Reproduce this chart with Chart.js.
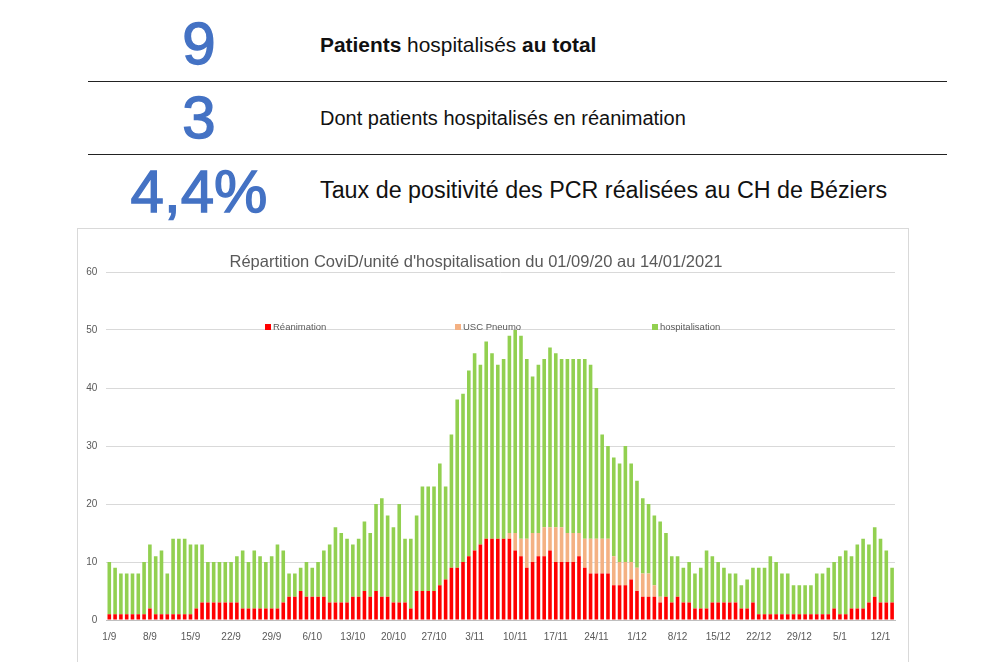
<!DOCTYPE html>
<html lang="fr">
<head>
<meta charset="utf-8">
<title>Répartition CoviD</title>
<script src="https://cdn.jsdelivr.net/npm/chart.js@4.4.0/dist/chart.umd.min.js"></script>
<style>
  html, body { margin: 0; padding: 0; background: #fff; }
  body { width: 983px; height: 662px; position: relative; overflow: hidden; font-family: "Liberation Sans", Arial, sans-serif; }
  .big { position: absolute; color: #4472C4; font-size: 60px; line-height: 60px; width: 200px; text-align: center; left: 99px; -webkit-text-stroke: 1.4px #4472C4; }
  .txt { position: absolute; left: 320px; color: #111; font-size: 20px; line-height: 22px; white-space: nowrap; }
  .rule { position: absolute; left: 88px; width: 859px; height: 1px; background: #222; }
  #frame { position: absolute; left: 77px; top: 228px; width: 830px; height: 440px; border: 1px solid #d9d9d9; }
  #wrap { position: absolute; left: 77px; top: 228px; width: 831px; height: 434px; }
</style>
</head>
<body>
<div class="big" style="top:14px;">9</div>
<div class="txt" style="top:34px; font-size:20.9px;"><b>Patients</b> hospitalisés <b>au total</b></div>
<div class="rule" style="top:81px;"></div>
<div class="big" style="top:88px;">3</div>
<div class="txt" style="top:107px;">Dont patients hospitalisés en réanimation</div>
<div class="rule" style="top:154px;"></div>
<div class="big" style="top:162px;">4,4%</div>
<div class="txt" style="top:177px; font-size:23.3px; line-height:26px;">Taux de positivité des PCR réalisées au CH de Béziers</div>
<div id="frame"></div>
<div id="wrap"><canvas id="c" width="831" height="434"></canvas></div>
<script>
// one bar per day, 1/9/2020 -> 14/1/2021
const months = [[9, 30], [10, 31], [11, 30], [12, 31], [1, 14]];
const categories = [];
months.forEach(([m, n]) => { for (let d = 1; d <= n; d++) categories.push(d + "/" + m); });

const tickLabels = ["1/9", "8/9", "15/9", "22/9", "29/9", "6/10", "13/10", "20/10", "27/10",
  "3/11", "10/11", "17/11", "24/11", "1/12", "8/12", "15/12", "22/12", "29/12", "5/1", "12/1"];

// Réanimation
const reanimation = [
  1,1,1,1,1,1,1,2,1,1,1,1,1,1,1,2,3,3,3,3,3,3,3,2,2,2,2,2,2,2,
  3,4,4,5,4,4,4,4,3,3,3,3,4,4,5,4,5,4,4,3,3,3,2,5,5,5,5,6,7,9,9,
  10,11,12,13,14,14,14,14,14,12,11,9,10,11,11,12,10,10,10,10,11,9,8,8,8,8,6,6,6,7,
  5,4,4,4,3,4,3,4,3,3,2,2,2,3,3,3,3,3,2,2,3,1,1,1,1,1,1,1,1,1,1,
  1,1,1,2,1,1,2,2,2,3,4,3,3,3
];
// USC Pneumo
const uscPneumo = [
  0,0,0,0,0,0,0,0,0,0,0,0,0,0,0,0,0,0,0,0,0,0,0,0,0,0,0,0,0,0,
  0,0,0,0,0,0,0,0,0,0,0,0,0,0,0,0,0,0,0,0,0,0,0,0,0,0,0,0,0,0,0,
  0,0,0,0,0,0,0,0,1,3,3,5,5,4,5,4,6,6,5,5,4,5,6,6,6,6,5,4,4,3,
  4,4,4,2,1,0,0,0,0,0,0,0,0,0,0,0,0,0,0,0,0,0,0,0,0,0,0,0,0,0,0,
  0,0,0,0,0,0,0,0,0,0,0,0,0,0
];
// hospitalisation
const hospitalisation = [
  9,8,7,7,7,7,9,11,10,11,7,13,13,13,12,11,10,7,7,7,7,7,8,10,8,10,9,8,9,11,
  9,4,4,4,6,5,6,8,10,13,12,11,9,10,12,11,15,17,14,13,17,11,12,13,18,18,18,21,16,23,29,
  29,32,34,31,34,32,30,31,34,35,35,31,27,29,29,31,30,29,30,30,30,31,30,26,18,16,17,17,20,17,
  15,13,12,12,13,11,8,7,6,7,6,7,10,8,7,6,5,5,4,5,6,8,8,10,9,7,7,5,5,5,5,
  7,7,8,8,10,11,9,11,12,10,12,11,9,6
];

const grey = "#595959";
const font = "'Liberation Sans', Arial, sans-serif";

// title and legend sit inside the frame, like the Excel original
const decor = {
  id: "decor",
  afterDraw(chart) {
    const ctx = chart.ctx;
    ctx.save();
    ctx.fillStyle = grey;
    ctx.font = "16.5px " + font;
    ctx.textAlign = "center";
    ctx.textBaseline = "middle";
    ctx.fillText("Répartition CoviD/unité d'hospitalisation du 01/09/20 au 14/01/2021", 399, 34);
    const xs = [188, 378, 575];
    ctx.font = "9.5px " + font;
    ctx.textAlign = "left";
    chart.data.datasets.forEach((ds, i) => {
      ctx.fillStyle = ds.backgroundColor;
      ctx.fillRect(xs[i], 96, 6, 6);
      ctx.fillStyle = grey;
      ctx.fillText(ds.label, xs[i] + 8, 99.5);
    });
    ctx.restore();
  }
};

new Chart(document.getElementById("c"), {
  type: "bar",
  data: {
    labels: categories,
    datasets: [
      { label: "Réanimation", data: reanimation, backgroundColor: "#FF0000" },
      { label: "USC Pneumo", data: uscPneumo, backgroundColor: "#F4B183" },
      { label: "hospitalisation", data: hospitalisation, backgroundColor: "#92D050" }
    ]
  },
  options: {
    responsive: false,
    animation: false,
    layout: { padding: { top: 44, right: 13, left: 0, bottom: 0 } },
    datasets: { bar: { barPercentage: 0.62, categoryPercentage: 1 } },
    plugins: { legend: { display: false }, title: { display: false }, tooltip: { enabled: false } },
    scales: {
      x: {
        stacked: true,
        grid: { display: false },
        border: { color: "#bfbfbf" },
        afterFit: (s) => { s.height = 42; },
        ticks: {
          autoSkip: false, maxRotation: 0, padding: 3,
          color: grey, font: { size: 10, family: font },
          callback: function (v) {
            const l = this.getLabelForValue(v);
            return tickLabels.includes(l) ? l : "";
          }
        }
      },
      y: {
        stacked: true,
        min: 0, max: 60,
        afterFit: (s) => { s.width = 29.4; },
        grid: { color: "#d9d9d9", drawTicks: false },
        border: { display: false },
        ticks: { stepSize: 10, padding: 9, color: grey, font: { size: 10, family: font } }
      }
    }
  },
  plugins: [decor]
});
</script>
</body>
</html>
